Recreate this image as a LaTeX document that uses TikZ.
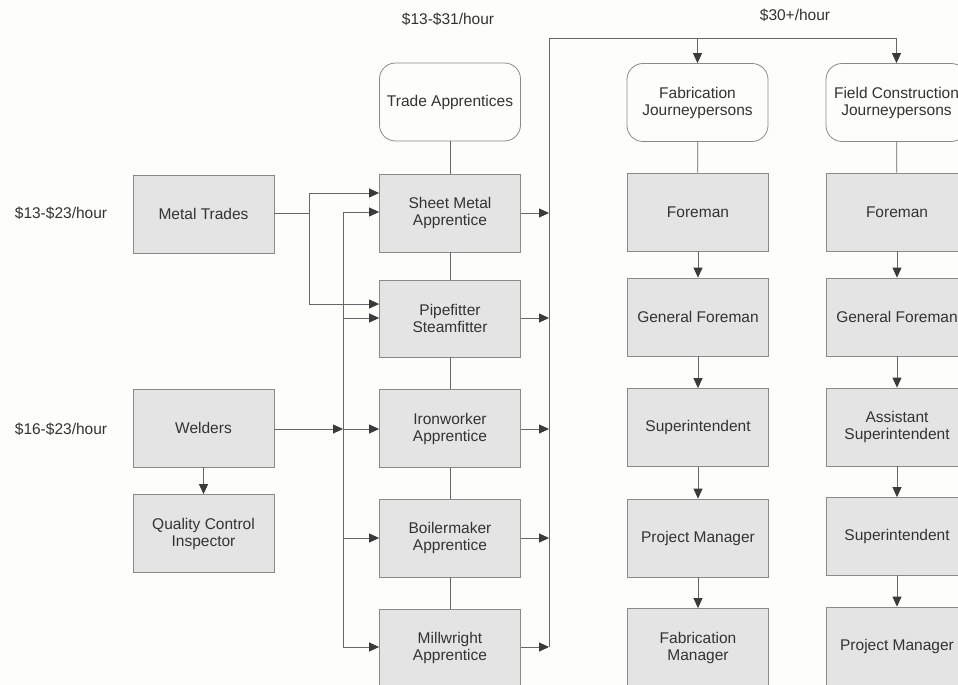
\documentclass[tikz,border=0pt]{standalone}
\usepackage{fontspec}
\setmainfont{Liberation Sans}
\usetikzlibrary{arrows.meta}
\definecolor{bg}{HTML}{FDFDF9}
\definecolor{boxfill}{HTML}{E4E4E4}
\definecolor{boxline}{HTML}{8A8A8A}
\definecolor{linec}{HTML}{666666}
\definecolor{tipc}{HTML}{3A3A3A}
\definecolor{txt}{HTML}{333333}
\tikzset{
  every node/.style={font=\fontsize{15.5}{17}\selectfont, text=txt},
  gbox/.style={draw=boxline, fill=boxfill, line width=0.8pt, minimum width=141pt, minimum height=78pt, align=center, inner sep=0pt},
  rbox/.style={draw=boxline, fill=bg, line width=0.8pt, minimum width=141pt, minimum height=78pt, align=center, inner sep=0pt, rounded corners=16pt},
  ln/.style={draw=linec, line width=0.8pt},
  arr/.style={ln, -{Triangle[length=10pt,width=9pt,color=tipc]}},
  lbl/.style={inner sep=0pt}
}
\begin{document}
\begin{tikzpicture}[x=1pt,y=-1pt]
\clip (0,0) rectangle (958,685);
\fill[bg] (0,0) rectangle (958,685);

% labels
\node[lbl] (l1) at (448,19) {\$13-\$31/hour};
\node[lbl] (l2) at (795,15) {\$30+/hour};
\node[lbl] (l3) at (61,213) {\$13-\$23/hour};
\node[lbl] (l4) at (61,429) {\$16-\$23/hour};

% left column
\node[gbox] (metal) at (203.5,214) {Metal Trades};
\node[gbox] (welders) at (203.5,428) {Welders};
\node[gbox] (qc) at (203.5,533.5) {Quality Control\\Inspector};

% apprentice column
\node[rbox] (trade) at (450,102) {Trade Apprentices};
\node[gbox] (sheet) at (450,213) {Sheet Metal\\Apprentice};
\node[gbox, minimum height=77pt] (pipe) at (450,318.5) {Pipefitter\\Steamfitter};
\node[gbox] (iron) at (450,428.5) {Ironworker\\Apprentice};
\node[gbox] (boiler) at (450,538) {Boilermaker\\Apprentice};
\node[gbox] (mill) at (450,648) {Millwright\\Apprentice};

% fabrication column
\node[rbox] (fabj) at (697.5,102.5) {Fabrication\\Journeypersons};
\node[gbox] (fore1) at (698,212) {Foreman};
\node[gbox] (genf1) at (698,317) {General Foreman};
\node[gbox] (sup1) at (698,427.5) {Superintendent};
\node[gbox] (pm1) at (698,538) {Project Manager};
\node[gbox] (fm) at (698,647.5) {Fabrication\\Manager};

% field column
\node[rbox] (fieldj) at (896.5,102.5) {Field Construction\\Journeypersons};
\node[gbox] (fore2) at (897,212) {Foreman};
\node[gbox] (genf2) at (897,317) {General Foreman};
\node[gbox] (asup) at (897,427) {Assistant\\Superintendent};
\node[gbox] (sup2) at (897,536.5) {Superintendent};
\node[gbox] (pm2) at (897,646) {Project Manager};

% apprentice column links
\draw[ln] (trade) -- (sheet);
\draw[ln] (sheet) -- (pipe);
\draw[ln] (pipe) -- (iron);
\draw[ln] (iron) -- (boiler);
\draw[ln] (boiler) -- (mill);

% metal trades feed
\coordinate (mj) at (309,213);
\coordinate (m1) at (309,193);
\coordinate (m2) at (309,304);
\draw[ln] (metal.east |- mj) -- (mj);
\draw[arr] (mj) |- (sheet.west |- m1);
\draw[arr] (mj) |- (pipe.west |- m2);

% second bus
\coordinate (b1) at (343,212);
\coordinate (b2) at (343,318);
\coordinate (b3) at (343,429);
\coordinate (b4) at (343,538);
\coordinate (b5) at (343,647);
\draw[ln] (b1) -- (b5);
\draw[arr] (b1) -- (sheet.west |- b1);
\draw[arr] (b2) -- (pipe.west |- b2);
\draw[arr] (b3) -- (iron.west |- b3);
\draw[arr] (b4) -- (boiler.west |- b4);
\draw[arr] (b5) -- (mill.west |- b5);
\draw[arr] (welders.east |- b3) -- (b3);
\draw[arr] (welders) -- (qc);

% right bus
\coordinate (r0) at (549,38);
\coordinate (r5) at (549,647);
\draw[ln] (r5) -- (r0);
\draw[arr] (sheet.east) -- (sheet.east -| r0);
\draw[arr] (pipe.east |- b2) -- (b2 -| r0);
\draw[arr] (iron.east |- b3) -- (b3 -| r0);
\draw[arr] (boiler.east |- b4) -- (b4 -| r0);
\draw[arr] (mill.east |- b5) -- (r5);
\draw[arr] (r0) -| (fieldj.north);
\draw[arr] (fabj.north |- r0) -- (fabj.north);

% fabrication chain
\draw[ln] (fabj) -- (fore1);
\draw[arr] (fore1) -- (genf1);
\draw[arr] (genf1) -- (sup1);
\draw[arr] (sup1) -- (pm1);
\draw[arr] (pm1) -- (fm);

% field chain
\draw[ln] (fieldj) -- (fore2);
\draw[arr] (fore2) -- (genf2);
\draw[arr] (genf2) -- (asup);
\draw[arr] (asup) -- (sup2);
\draw[arr] (sup2) -- (pm2);
\end{tikzpicture}
\end{document}
